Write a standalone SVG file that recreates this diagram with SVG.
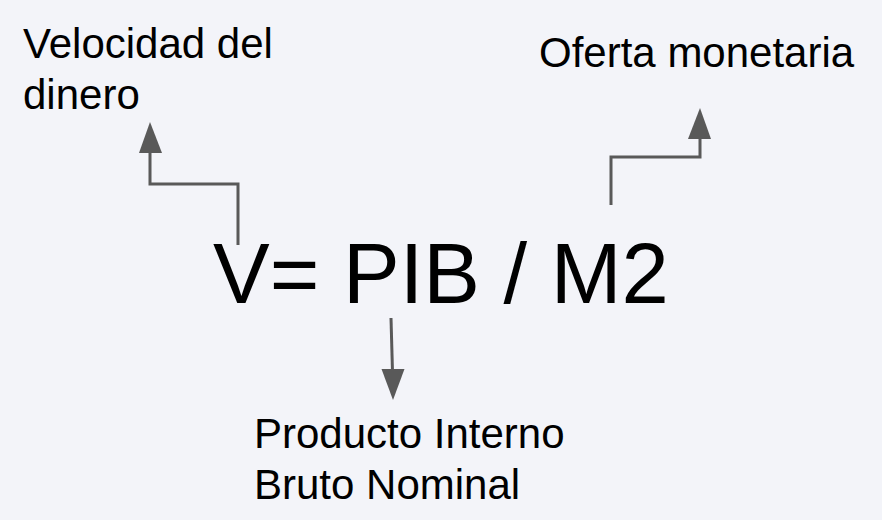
<svg xmlns="http://www.w3.org/2000/svg" width="882" height="520" viewBox="0 0 882 520">
<style>
.t{font-family:"Liberation Sans",Arial,sans-serif;fill:#000}
.lbl{font-size:42px}
.main{font-size:85px}
.c{fill:none;stroke:#595959;stroke-width:3}
.h{fill:#595959}
</style>
<rect width="882" height="520" fill="#f3f4f9"/>
<g id="formula"><text class="t main" x="213" y="303">V= PIB / M2</text></g>
<g id="velocidad"><text class="t lbl" x="23" y="58">Velocidad del</text><text class="t lbl" x="23" y="109">dinero</text></g>
<g id="oferta"><text class="t lbl" x="539" y="67">Oferta monetaria</text></g>
<g id="pib"><text class="t lbl" x="254" y="448">Producto Interno</text><text class="t lbl" x="254" y="499">Bruto Nominal</text></g>
<g id="connectors">
<polyline class="c" points="238,245 238,184 150,184 150,150"/>
<polygon class="h" points="150,122 139,153 162,153"/>
<polyline class="c" points="611,205 611,157 700,157 700,136"/>
<polygon class="h" points="700,108 688,139 711,139"/>
<line class="c" x1="391" y1="318" x2="392.5" y2="372"/>
<polygon class="h" points="393,400 381.5,369 404.5,369"/>
</g>
</svg>
